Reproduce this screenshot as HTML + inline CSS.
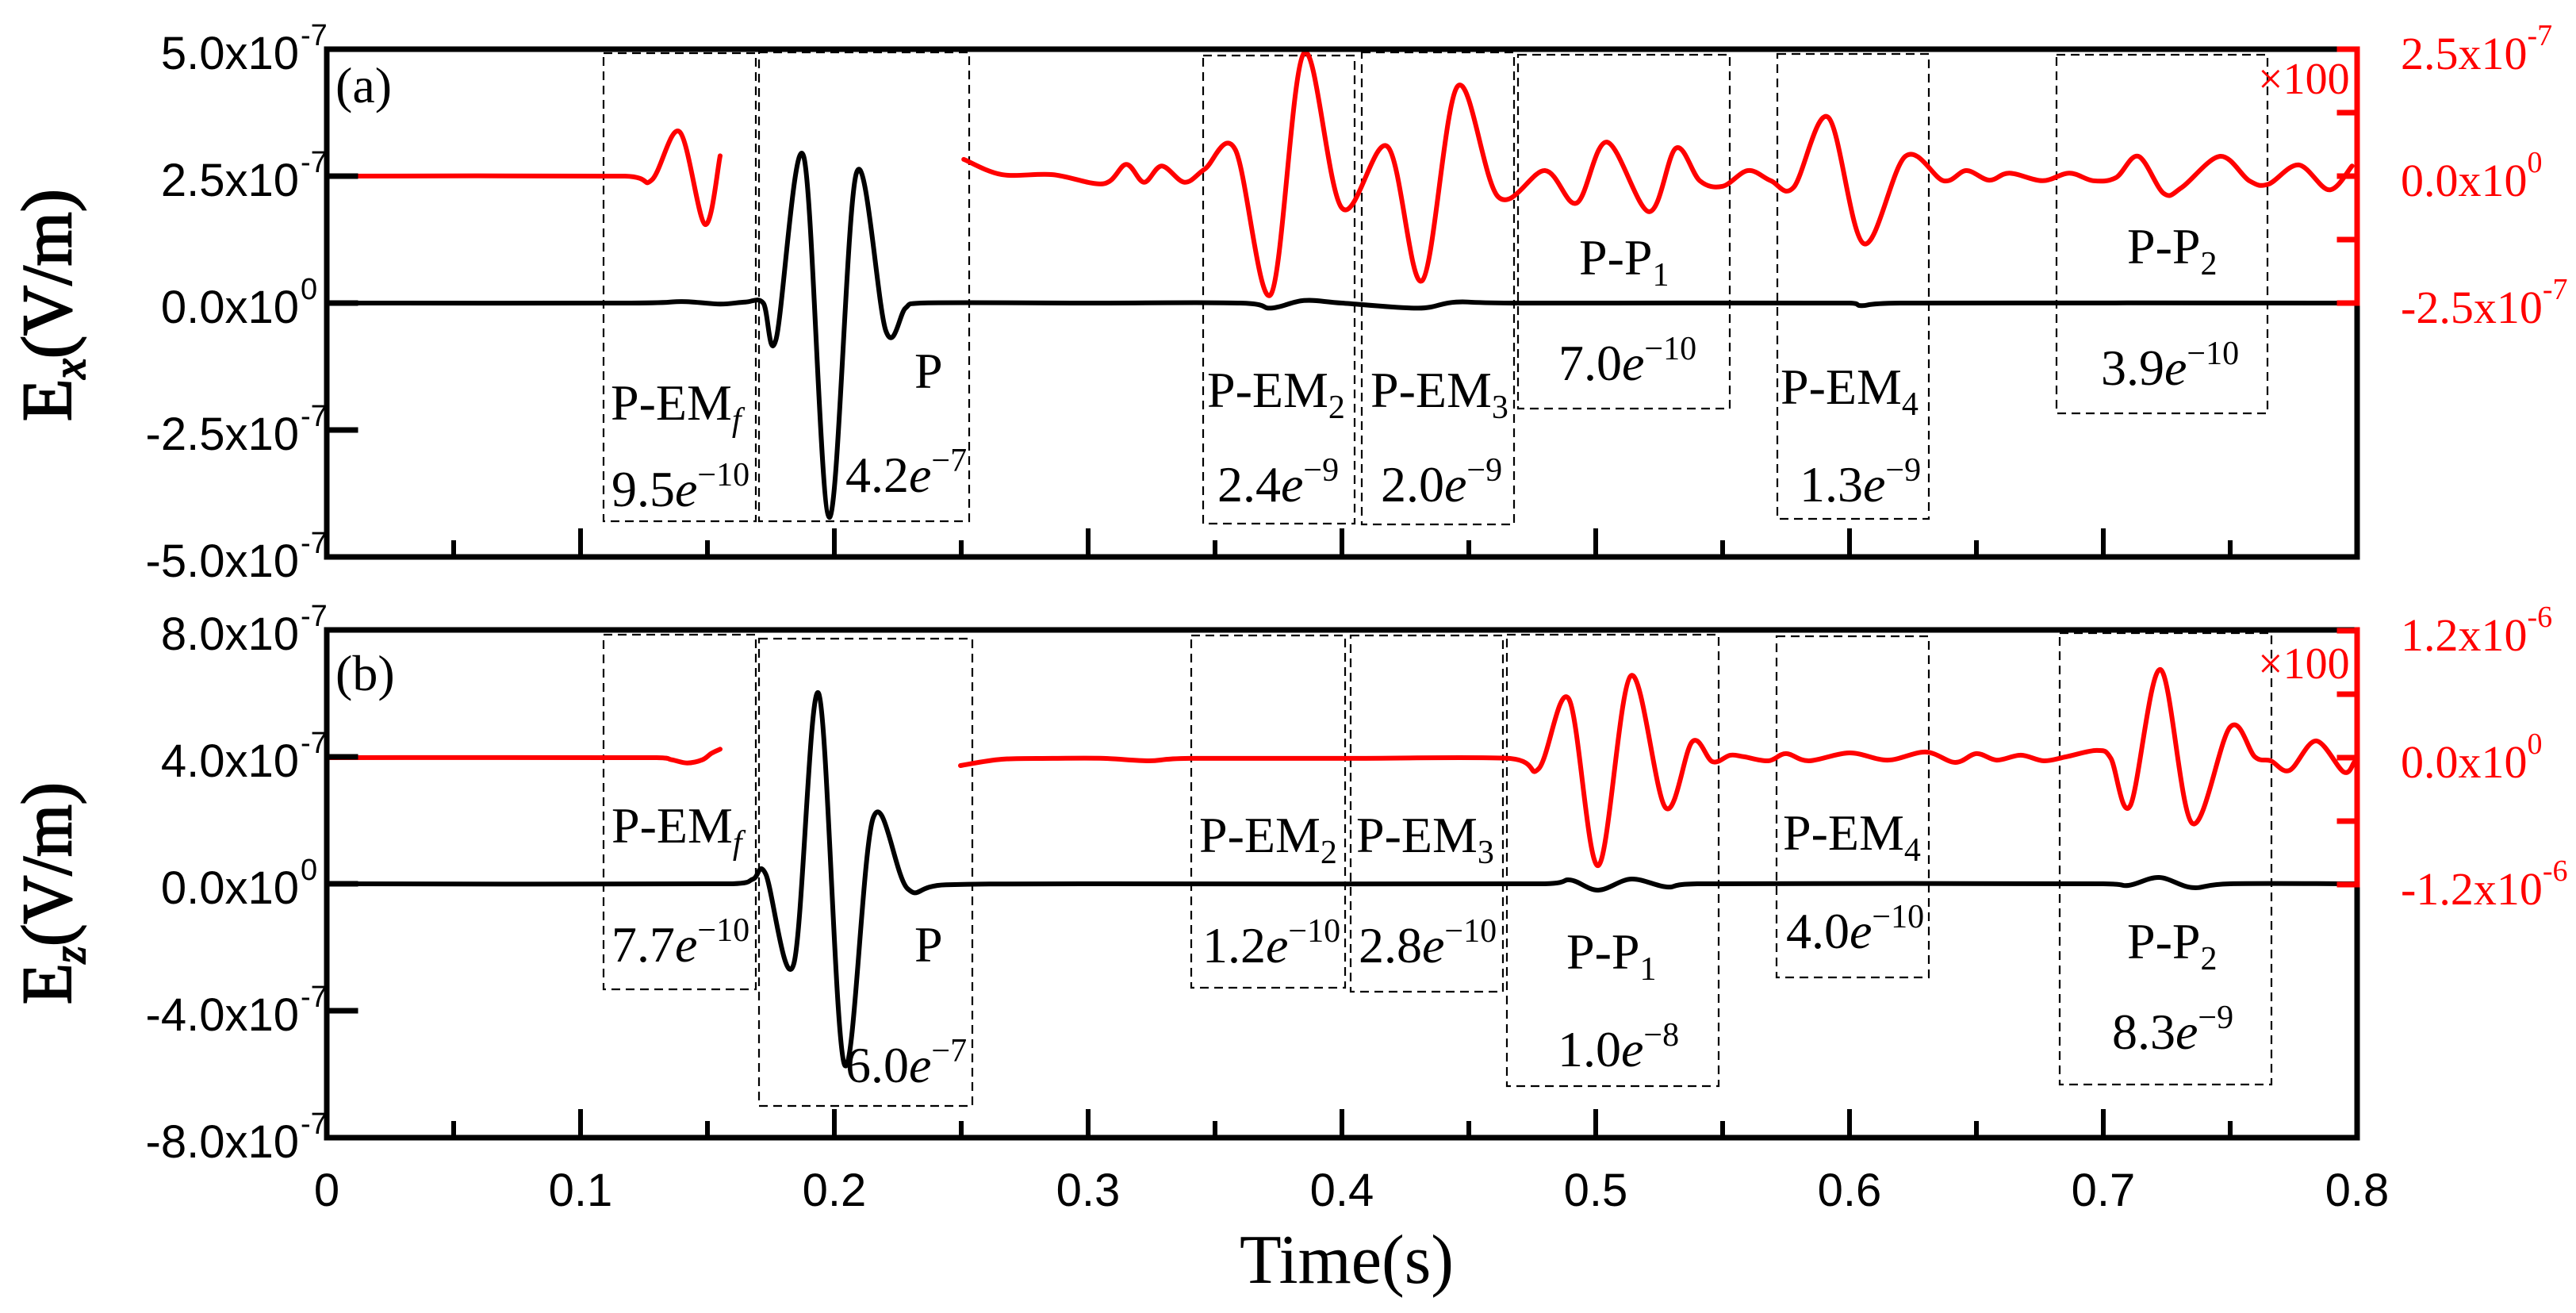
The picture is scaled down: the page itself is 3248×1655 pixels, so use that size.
<!DOCTYPE html>
<html><head><meta charset="utf-8">
<style>
html,body{margin:0;padding:0;background:#fff;}
svg{display:block;}
.tk{font-family:"Liberation Sans",sans-serif;font-size:58px;fill:#000;}
.tm{font-family:"Liberation Serif",serif;fill:#000;}
.rd{font-family:"Liberation Serif",serif;fill:#f00;font-size:58px;}
.box{fill:none;stroke:#000;stroke-width:2.2;stroke-dasharray:11 7;}
</style></head>
<body>
<svg id="chart" width="3248" height="1655" viewBox="0 0 3248 1655" xmlns="http://www.w3.org/2000/svg">
<g id="boxes">
  <rect class="box" x="761" y="67" width="192" height="590"/>
  <rect class="box" x="957" y="66" width="265" height="591"/>
  <rect class="box" x="1517" y="70" width="191" height="590"/>
  <rect class="box" x="1717" y="66" width="192" height="595"/>
  <rect class="box" x="1914" y="69" width="267" height="446"/>
  <rect class="box" x="2241" y="68" width="191" height="586"/>
  <rect class="box" x="2593" y="69" width="266" height="452"/>
  <rect class="box" x="761" y="800" width="192" height="447"/>
  <rect class="box" x="957" y="805" width="269" height="589"/>
  <rect class="box" x="1502" y="801" width="194" height="444"/>
  <rect class="box" x="1703" y="801" width="192" height="449"/>
  <rect class="box" x="1900" y="800" width="267" height="569"/>
  <rect class="box" x="2240" y="802" width="192" height="430"/>
  <rect class="box" x="2597" y="798" width="267" height="569"/>
</g>
<g id="series"></g>
<g id="axes"></g>
<g id="labels" class="tm" font-size="64">
  <text x="423" y="129">(a)</text>
  <text x="770" y="529">P-EM<tspan font-style="italic" font-size="42" dy="14">f</tspan></text>
  <text x="771" y="638">9.5<tspan font-style="italic">e</tspan><tspan font-size="42" dy="-26">−10</tspan></text>
  <text x="1153" y="489">P</text>
  <text x="1066" y="620">4.2<tspan font-style="italic">e</tspan><tspan font-size="42" dy="-26">−7</tspan></text>
  <text x="1522" y="513">P-EM<tspan font-size="42" dy="14">2</tspan></text>
  <text x="1728" y="513">P-EM<tspan font-size="42" dy="14">3</tspan></text>
  <text x="1535" y="632">2.4<tspan font-style="italic">e</tspan><tspan font-size="42" dy="-26">−9</tspan></text>
  <text x="1741" y="632">2.0<tspan font-style="italic">e</tspan><tspan font-size="42" dy="-26">−9</tspan></text>
  <text x="1991" y="346">P-P<tspan font-size="42" dy="14">1</tspan></text>
  <text x="1965" y="479">7.0<tspan font-style="italic">e</tspan><tspan font-size="42" dy="-26">−10</tspan></text>
  <text x="2245" y="509">P-EM<tspan font-size="42" dy="14">4</tspan></text>
  <text x="2269" y="632">1.3<tspan font-style="italic">e</tspan><tspan font-size="42" dy="-26">−9</tspan></text>
  <text x="2682" y="332">P-P<tspan font-size="42" dy="14">2</tspan></text>
  <text x="2649" y="485">3.9<tspan font-style="italic">e</tspan><tspan font-size="42" dy="-26">−10</tspan></text>
  <text x="2847" y="118" fill="#f00" font-size="56">×100</text>

  <text x="423" y="870">(b)</text>
  <text x="771" y="1062">P-EM<tspan font-style="italic" font-size="42" dy="14">f</tspan></text>
  <text x="771" y="1212">7.7<tspan font-style="italic">e</tspan><tspan font-size="42" dy="-26">−10</tspan></text>
  <text x="1153" y="1212">P</text>
  <text x="1066" y="1364">6.0<tspan font-style="italic">e</tspan><tspan font-size="42" dy="-26">−7</tspan></text>
  <text x="1512" y="1074">P-EM<tspan font-size="42" dy="14">2</tspan></text>
  <text x="1710" y="1074">P-EM<tspan font-size="42" dy="14">3</tspan></text>
  <text x="1516" y="1213">1.2<tspan font-style="italic">e</tspan><tspan font-size="42" dy="-26">−10</tspan></text>
  <text x="1713" y="1213">2.8<tspan font-style="italic">e</tspan><tspan font-size="42" dy="-26">−10</tspan></text>
  <text x="1975" y="1221">P-P<tspan font-size="42" dy="14">1</tspan></text>
  <text x="1964" y="1344">1.0<tspan font-style="italic">e</tspan><tspan font-size="42" dy="-26">−8</tspan></text>
  <text x="2248" y="1071">P-EM<tspan font-size="42" dy="14">4</tspan></text>
  <text x="2252" y="1195">4.0<tspan font-style="italic">e</tspan><tspan font-size="42" dy="-26">−10</tspan></text>
  <text x="2682" y="1208">P-P<tspan font-size="42" dy="14">2</tspan></text>
  <text x="2663" y="1322">8.3<tspan font-style="italic">e</tspan><tspan font-size="42" dy="-26">−9</tspan></text>
  <text x="2847" y="855" fill="#f00" font-size="56">×100</text>

  <text x="1563" y="1617" font-size="88" textLength="270" lengthAdjust="spacingAndGlyphs">Time(s)</text>
  <text transform="translate(89,531) rotate(-90)" font-size="89" stroke="#000" stroke-width="2" textLength="293" lengthAdjust="spacingAndGlyphs">E<tspan font-style="italic" font-size="58" dy="18">x</tspan><tspan dy="-18">(V/m)</tspan></text>
  <text transform="translate(89,1266) rotate(-90)" font-size="89" stroke="#000" stroke-width="2" textLength="280" lengthAdjust="spacingAndGlyphs">E<tspan font-style="italic" font-size="58" dy="18">z</tspan><tspan dy="-18">(V/m)</tspan></text>
</g>
</svg>
<script>
// ---- data ----
const xTicks = [0, 0.1, 0.2, 0.3, 0.4, 0.5, 0.6, 0.7, 0.8];
const xTickLabels = ["0", "0.1", "0.2", "0.3", "0.4", "0.5", "0.6", "0.7", "0.8"];
const yTicksA = [5, 2.5, 0, -2.5, -5];
const yTickLabelsA = [["5.0x10","-7"],["2.5x10","-7"],["0.0x10","0"],["-2.5x10","-7"],["-5.0x10","-7"]];
const yTicksB = [8, 4, 0, -4, -8];
const yTickLabelsB = [["8.0x10","-7"],["4.0x10","-7"],["0.0x10","0"],["-4.0x10","-7"],["-8.0x10","-7"]];
const rTicksA = [2.5, 0, -2.5];
const rTickLabelsA = [["2.5x10","-7"],["0.0x10","0"],["-2.5x10","-7"]];
const rTicksB = [12, 0, -12];
const rTickLabelsB = [["1.2x10","-6"],["0.0x10","0"],["-1.2x10","-6"]];

// panel (a) black Ex  (units 1e-7 V/m)
const blackA_t = [0, .12, .14, .155, .165, .172, .177, .1879, .198, .2087, .2203, .228, .234, .3, .36, .372, .385, .4, .43, .445, .47, .6, .605, .62, .8];
const blackA_v = [0, 0, .03, -.02, .02, 0, -.72, 2.89, -4.22, 2.56, -.55, -.1, 0, 0, 0, -.1, .05, 0, -.1, .02, 0, 0, -.05, 0, 0];
// panel (a) red Ex x100 (right axis, units 1e-7)
const redA1_t = [0, .1175, .128, .139, .149, .155];
const redA1_v = [0, 0, -.08, .875, -.95, .4];
const redA2_t = [.251, .266, .286, .306, .315, .322, .329, .338, .346, .358, .372, .385, .400, .418, .4316, .4456, .4616, .480, .4925, .5044, .521, .5316, .541, .550, .560, .569, .578, .5916, .6056, .622, .637, .646, .655, .663, .676, .6866, .696, .705, .7138, .7238, .731, .746, .7575, .765, .777, .789, .798];
const redA2_v = [.33, .03, .03, -.15, .23, -.12, .2, -.12, .14, .52, -2.33, 2.42, -.63, .58, -2.06, 1.77, -.41, .11, -.53, .67, -.7, .55, -.09, -.2, .11, -.09, -.22, 1.16, -1.33, .39, -.09, .11, -.08, .06, -.09, .06, -.09, -.03, .39, -.34, -.22, .39, -.09, -.16, .22, -.27, .2];
// panel (b) black Ez
const blackB_t = [0, .16, .168, .173, .184, .1938, .204, .2153, .2288, .244, .3, .48, .49, .501, .514, .528, .54, .7, .71, .722, .735, .75, .8];
const blackB_v = [0, 0, .15, .3, -2.53, 6.0, -5.7, 2.08, -.15, -.03, 0, 0, .12, -.2, .15, -.1, 0, 0, -.05, .2, -.12, 0, 0];
// panel (b) red Ez x100
const redB1_t = [0, .130, .136, .142, .148, .1515, .155];
const redB1_v = [0, 0, -.2, -.5, -.2, .4, .8];
const redB2_t = [.2497, .266, .286, .306, .324, .34, .4, .4656, .4775, .4894, .501, .5138, .5275, .538, .546, .553, .5585, .568, .575, .584, .600, .615, .630, .6416, .650, .658, .6675, .6766, .6853, .6975, .703, .7106, .7225, .735, .750, .7597, .766, .7734, .7838, .7947, .7988];
const redB2_v = [-.75, -.15, -.07, -.07, -.3, -.07, -.07, -.07, -1.05, 5.55, -10.2, 7.73, -4.73, 1.5, -.38, .23, .08, -.3, .38, -.3, .45, -.23, .53, -.45, .38, -.23, .23, -.3, .08, .68, -.08, -4.55, 8.33, -6.2, 2.9, .08, -.3, -1.2, 1.58, -1.35, -.45];

// ---- axis functions ----
const X0 = 412, X1 = 2972;
function sx(t){ return X0 + (t/0.8)*(X1-X0); }
function yA(v){ return 382 - v*64; }
function yAr(v){ return 222 - v*64; }
function yB(v){ return 1114 - v*40; }
function yBr(v){ return 955 - v*(160/12); }

const NS = "http://www.w3.org/2000/svg";
const series = document.getElementById('series');
const axes = document.getElementById('axes');

function clamp(v,a,b){ return Math.max(Math.min(a,b), Math.min(Math.max(a,b), v)); }
function smoothPath(ts, vs, yf){
  const p = ts.map((t,i)=>[sx(t), yf(vs[i])]);
  let d = "M" + p[0][0].toFixed(1) + "," + p[0][1].toFixed(1);
  for (let i=0;i<p.length-1;i++){
    const p0=p[Math.max(i-1,0)], p1=p[i], p2=p[i+1], p3=p[Math.min(i+2,p.length-1)];
    const c1=[clamp(p1[0]+(p2[0]-p0[0])/6,p1[0],p2[0]), p1[1]+(p2[1]-p0[1])/6];
    const c2=[clamp(p2[0]-(p3[0]-p1[0])/6,p1[0],p2[0]), p2[1]-(p3[1]-p1[1])/6];
    d += " C"+c1[0].toFixed(1)+","+c1[1].toFixed(1)+" "+c2[0].toFixed(1)+","+c2[1].toFixed(1)+" "+p2[0].toFixed(1)+","+p2[1].toFixed(1);
  }
  return d;
}
function addSeries(ts, vs, yf, color, name){
  const el = document.createElementNS(NS,'path');
  el.setAttribute('d', smoothPath(ts, vs, yf));
  el.setAttribute('fill','none');
  el.setAttribute('stroke', color);
  el.setAttribute('stroke-width','6');
  el.setAttribute('stroke-linejoin','round');
  el.setAttribute('stroke-linecap','round');
  
  
  series.appendChild(el);
}
addSeries(blackA_t, blackA_v, yA, '#000', 'ex-line');
addSeries(redA1_t, redA1_v, yAr, '#f00', 'ex-x100-line-early');
addSeries(redA2_t, redA2_v, yAr, '#f00', 'ex-x100-line-late');
addSeries(blackB_t, blackB_v, yB, '#000', 'ez-line');
addSeries(redB1_t, redB1_v, yBr, '#f00', 'ez-x100-line-early');
addSeries(redB2_t, redB2_v, yBr, '#f00', 'ez-x100-line-late');

function line(x1,y1,x2,y2,color,w,name){
  const el = document.createElementNS(NS,'line');
  el.setAttribute('x1',x1); el.setAttribute('y1',y1);
  el.setAttribute('x2',x2); el.setAttribute('y2',y2);
  el.setAttribute('stroke',color); el.setAttribute('stroke-width',w);
  el.setAttribute('stroke-linecap','square');
  
  
  axes.appendChild(el);
}
function label(x,y,main,sup,cls,anchor,name){
  const el = document.createElementNS(NS,'text');
  el.setAttribute('class',cls);
  el.setAttribute('x',x); el.setAttribute('y',y);
  el.setAttribute('text-anchor',anchor);
  el.textContent = main;
  if (sup !== null){
    const ts = document.createElementNS(NS,'tspan');
    ts.setAttribute('font-size','38');
    ts.setAttribute('dy','-30');
    ts.textContent = sup;
    el.appendChild(ts);
  }
  
  
  axes.appendChild(el);
}

function panel(top, bottom, yf, yr, ticks, tickLabels, rticks, rlabels, tag){
  line(X0, top, X1, top, '#000', 7, 'frame-top-'+tag);
  line(X0, top, X0, bottom, '#000', 7, 'y-axis-left-'+tag);
  line(X0, bottom, X1, bottom, '#000', 7, 'x-axis-'+tag);
  line(X1, yf(0), X1, bottom, '#000', 7, 'frame-right-'+tag);
  line(X1, top, X1, yf(0), '#f00', 7, 'y-axis-right-'+tag);
  ticks.forEach((v,i)=>{
    const y = yf(v);
    line(X0, y, X0+36, y, '#000', 7, 'y-tick-'+tag);
    label(X0-35, y+25, tickLabels[i][0], null, 'tk', 'end', 'y-tick-label-'+tag);
    label(X0-33, y+25, '', tickLabels[i][1], 'tk', 'start', 'y-tick-exp-'+tag);
  });
  const rmin = rticks[rticks.length-1], rmax = rticks[0];
  for (let k=0;k<=4;k++){
    const v = rmin + (rmax-rmin)*k/4;
    line(X1-22, yr(v), X1, yr(v), '#f00', 7, 'right-tick-'+tag);
  }
  rticks.forEach((v,i)=>{
    const y = yr(v) + 25;
    const el = document.createElementNS(NS,'text');
    el.setAttribute('class','rd');
    el.setAttribute('x', 3027); el.setAttribute('y', y);
    el.textContent = rlabels[i][0];
    const ts = document.createElementNS(NS,'tspan');
    ts.setAttribute('font-size','38'); ts.setAttribute('dy','-30');
    ts.textContent = rlabels[i][1];
    el.appendChild(ts);
    
    
    axes.appendChild(el);
  });
  for (let k=0;k<=16;k++){
    const t = k*0.05;
    const len = (k%2===0) ? 33 : 18;
    if (k>0 && k<16) line(sx(t), bottom, sx(t), bottom-len, '#000', 6, 'x-tick-'+tag);
  }
}
panel(62, 702, yA, yAr, yTicksA, yTickLabelsA, rTicksA, rTickLabelsA, 'a');
panel(794, 1434, yB, yBr, yTicksB, yTickLabelsB, rTicksB, rTickLabelsB, 'b');

xTicks.forEach((t,i)=>{
  const el = document.createElementNS(NS,'text');
  el.setAttribute('class','tk');
  el.setAttribute('x', sx(t)); el.setAttribute('y', 1520);
  el.setAttribute('text-anchor','middle');
  el.textContent = xTickLabels[i];
  
  
  axes.appendChild(el);
});
</script>
</body></html>
